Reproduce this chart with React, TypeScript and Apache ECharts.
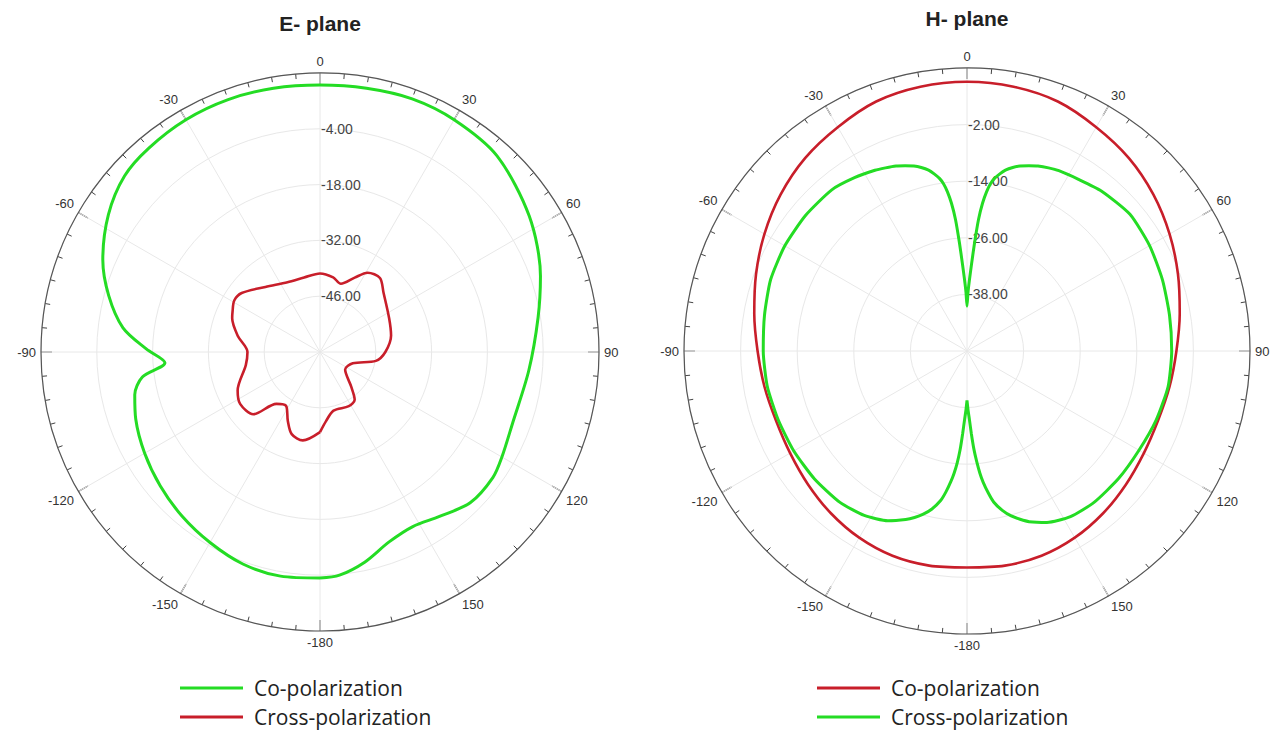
import React, { useEffect, useRef } from 'react';
import * as echarts from 'echarts';

// ---------- E-plane data (angle in degrees, value in dB) ----------
const eCoAngles = [-180, -170, -160, -150, -140, -130, -120, -110, -103, -98, -94, -89, -83, -75, -67, -57, -48, -40, -30, -20, -10, 0, 10, 20, 30, 42, 57, 71, 81, 95, 110, 120, 126, 135, 144, 152, 160, 168, 175, 180];
const eCoValues = [-3.3, -2.9, -3.4, -4.8, -6.2, -7.7, -9.2, -10.8, -12.3, -15.0, -21.0, -16.4, -10.2, -5.1, -0.8, 3.3, 6.0, 6.8, 7.3, 7.4, 7.2, 7.0, 7.2, 7.6, 7.3, 6.3, 2.6, -1.5, -4.6, -7.4, -8.5, -7.3, -6.4, -6.6, -9.0, -10.4, -9.3, -6.1, -3.8, -3.3];

const eCrossAngles = [-180, -169, -161, -155, -148, -140, -133, -123, -115, -100, -90, -79, -69, -65, -59, -53, -40, -25, -12, 0, 10, 17, 25, 31, 39, 47, 64, 77, 90, 99, 109, 125, 138, 144, 152, 167, 175, 180];
const eCrossValues = [-39.9, -37.4, -38.2, -40.9, -44.0, -43.0, -37.1, -36.1, -37.2, -41.1, -41.8, -39.0, -36.4, -35.8, -34.9, -35.4, -38.7, -40.7, -40.9, -40.3, -41.0, -42.1, -39.4, -36.8, -36.1, -38.2, -40.7, -41.7, -43.6, -45.8, -51.3, -52.3, -48.3, -45.2, -44.6, -44.9, -42.6, -39.9];

// ---------- H-plane data ----------
const hCoAngles = [-180, -170, -160, -150, -140, -130, -120, -110, -100, -90, -80, -70, -60, -50, -40, -30, -20, -10, 0, 10, 20, 30, 40, 50, 60, 70, 80, 90, 100, 110, 120, 130, 140, 150, 160, 170, 180];
const hCoValues = [-4.1, -3.8, -3.8, -4.3, -5.1, -6.0, -6.7, -6.9, -6.4, -5.6, -4.2, -2.4, -0.4, 1.6, 3.4, 4.8, 6.3, 6.9, 7.1, 6.9, 6.3, 4.8, 3.4, 1.6, -0.4, -2.4, -4.2, -5.6, -6.4, -6.9, -6.7, -6.0, -5.1, -4.3, -3.8, -3.8, -4.1];

const hCrossAngles = [-180, -179, -178, -177, -176, -175, -174, -173, -171.5, -170, -167.5, -165, -162.5, -160, -155, -148, -140, -130, -120, -110, -100, -90, -80, -70, -60, -50, -40, -33, -27, -24, -21, -18.5, -16, -14, -12, -10.5, -9, -8, -7, -6, -5, -4, -3, -2, -1, 0, 1, 2, 3, 4, 5, 6, 7, 8, 9, 10.5, 12, 14, 16, 18.5, 21, 24, 27, 33, 40, 50, 60, 70, 80, 90, 100, 110, 120, 130, 140, 148, 155, 160, 162.5, 165, 167.5, 170, 171.5, 173, 174, 175, 176, 177, 178, 179, 180];
const hCrossValues = [-39.5, -37.5, -35.5, -32.5, -29, -26.2, -24, -22.2, -19.8, -17.8, -15.7, -14.2, -13.0, -12.0, -10.3, -8.9, -8.1, -7.8, -7.6, -7.4, -7.0, -6.8, -6.4, -5.7, -5.4, -5.3, -5.4, -6.2, -7.0, -7.5, -8.0, -8.6, -9.2, -9.9, -10.8, -11.8, -13.0, -14.2, -16.0, -18.5, -22.0, -27.0, -31.5, -34.8, -37.5, -40.5, -37.5, -34.8, -31.5, -27.0, -22.0, -18.5, -16.0, -14.2, -13.0, -11.8, -10.8, -9.9, -9.2, -8.6, -8.0, -7.5, -7.1, -6.6, -5.7, -4.9, -5.3, -5.9, -6.4, -6.6, -6.7, -7.3, -7.9, -8.0, -8.1, -8.6, -9.9, -11.5, -12.6, -13.8, -15.4, -17.5, -19.6, -22.0, -24.0, -26.5, -29.2, -32.5, -35.5, -37.5, -39.5];

// ---------- axis scales ----------
const eRadiusMin = -60;
const eRadiusMax = 10;
const eRadiusStep = 14;
const hRadiusMin = -50;
const hRadiusMax = 10;
const hRadiusStep = 12;
const angleStep = 30;

const titles = ['E- plane', 'H- plane'];
const coName = 'Co-polarization';
const crossName = 'Cross-polarization';

const GREEN = '#24dc24';
const RED = '#c81e2a';

function toPolar(angles: number[], values: number[]) {
  return angles.map((a, i) => [values[i], (a + 360) % 360]);
}

function angleLabel(v: number): string {
  if (v === 360) return '';
  if (v === 180) return '-180';
  if (v > 180) return String(v - 360);
  return String(v);
}

function makeAngleAxis(polarIndex: number) {
  return {
    polarIndex,
    type: 'value',
    min: 0,
    max: 360,
    interval: angleStep,
    startAngle: 90,
    clockwise: true,
    axisLine: { show: true, lineStyle: { color: '#555', width: 1.2 } },
    axisTick: { show: true, inside: true, length: 11, lineStyle: { color: '#444', width: 1.2 } },
    minorTick: { show: true, splitNumber: 6, length: 5, lineStyle: { color: '#444', width: 1 } },
    axisLabel: {
      show: true,
      margin: 5,
      color: '#333',
      fontSize: 13,
      fontFamily: 'Liberation Sans, Arial, sans-serif',
      formatter: angleLabel,
    },
    splitLine: { show: true, lineStyle: { color: '#e8e8e8', width: 1 } },
  };
}

function makeRadiusAxis(polarIndex: number, min: number, max: number, step: number) {
  return {
    polarIndex,
    type: 'value',
    min,
    max,
    interval: step,
    axisLine: { show: false },
    axisTick: { show: false },
    axisLabel: {
      show: true,
      showMinLabel: false,
      showMaxLabel: false,
      formatter: (v: number) => v.toFixed(2),
      color: '#444',
      fontSize: 14,
      fontFamily: 'Liberation Sans, Arial, sans-serif',
      align: 'left',
      verticalAlign: 'middle',
      margin: -1,
      padding: [0, 0, 8, 0],
    },
    splitLine: { show: true, lineStyle: { color: '#e8e8e8', width: 1 } },
  };
}

export default function App() {
  const ref = useRef<HTMLDivElement>(null);

  useEffect(() => {
    if (!ref.current) return;
    const chart = echarts.init(ref.current, undefined, { renderer: 'svg' });

    const legendText = {
      fontSize: 21,
      lineHeight: 24,
      color: '#222',
      fontFamily: 'Open Sans, Noto Sans, sans-serif',
      padding: [0, 0, 0, 6],
    };

    const legendBase = {
      orient: 'vertical',
      top: 676,
      padding: 0,
      icon: 'rect',
      itemWidth: 63,
      itemHeight: 3,
      itemGap: 5,
      selectedMode: false,
      formatter: (n: string) => n.split('|')[1],
      textStyle: legendText,
    };

    chart.setOption({
      animation: false,
      backgroundColor: '#ffffff',
      polar: [
        { center: [320, 352], radius: 279 },
        { center: [967, 351], radius: 283 },
      ],
      angleAxis: [makeAngleAxis(0), makeAngleAxis(1)],
      radiusAxis: [
        makeRadiusAxis(0, eRadiusMin, eRadiusMax, eRadiusStep),
        makeRadiusAxis(1, hRadiusMin, hRadiusMax, hRadiusStep),
      ],
      legend: [
        { ...legendBase, left: 180, data: ['E|' + coName, 'E|' + crossName] },
        { ...legendBase, left: 817, data: ['H|' + coName, 'H|' + crossName] },
      ],
      graphic: [
        {
          type: 'text',
          x: 320,
          y: 23,
          style: { text: titles[0], align: 'center', verticalAlign: 'middle', fontSize: 21, fontWeight: 'bold', fill: '#222', fontFamily: 'Liberation Sans, Arial, sans-serif' },
        },
        {
          type: 'text',
          x: 967,
          y: 18,
          style: { text: titles[1], align: 'center', verticalAlign: 'middle', fontSize: 21, fontWeight: 'bold', fill: '#222', fontFamily: 'Liberation Sans, Arial, sans-serif' },
        },
      ],
      series: [
        {
          name: 'E|' + coName,
          type: 'line',
          coordinateSystem: 'polar',
          polarIndex: 0,
          data: toPolar(eCoAngles, eCoValues),
          symbol: 'none',
          smooth: 0.3,
          lineStyle: { color: GREEN, width: 3 },
          itemStyle: { color: GREEN },
          z: 3,
        },
        {
          name: 'E|' + crossName,
          type: 'line',
          coordinateSystem: 'polar',
          polarIndex: 0,
          data: toPolar(eCrossAngles, eCrossValues),
          symbol: 'none',
          smooth: 0.3,
          lineStyle: { color: RED, width: 2.6 },
          itemStyle: { color: RED },
          z: 3,
        },
        {
          name: 'H|' + coName,
          type: 'line',
          coordinateSystem: 'polar',
          polarIndex: 1,
          data: toPolar(hCoAngles, hCoValues),
          symbol: 'none',
          smooth: 0.3,
          lineStyle: { color: RED, width: 2.6 },
          itemStyle: { color: RED },
          z: 3,
        },
        {
          name: 'H|' + crossName,
          type: 'line',
          coordinateSystem: 'polar',
          polarIndex: 1,
          data: toPolar(hCrossAngles, hCrossValues),
          symbol: 'none',
          smooth: 0.2,
          lineStyle: { color: GREEN, width: 3 },
          itemStyle: { color: GREEN },
          z: 4,
        },
      ],
    });

    return () => chart.dispose();
  }, []);

  return (
    <div
      ref={ref}
      style={{ position: 'absolute', left: 0, top: 0, width: 1283, height: 735, background: '#fff' }}
    />
  );
}
